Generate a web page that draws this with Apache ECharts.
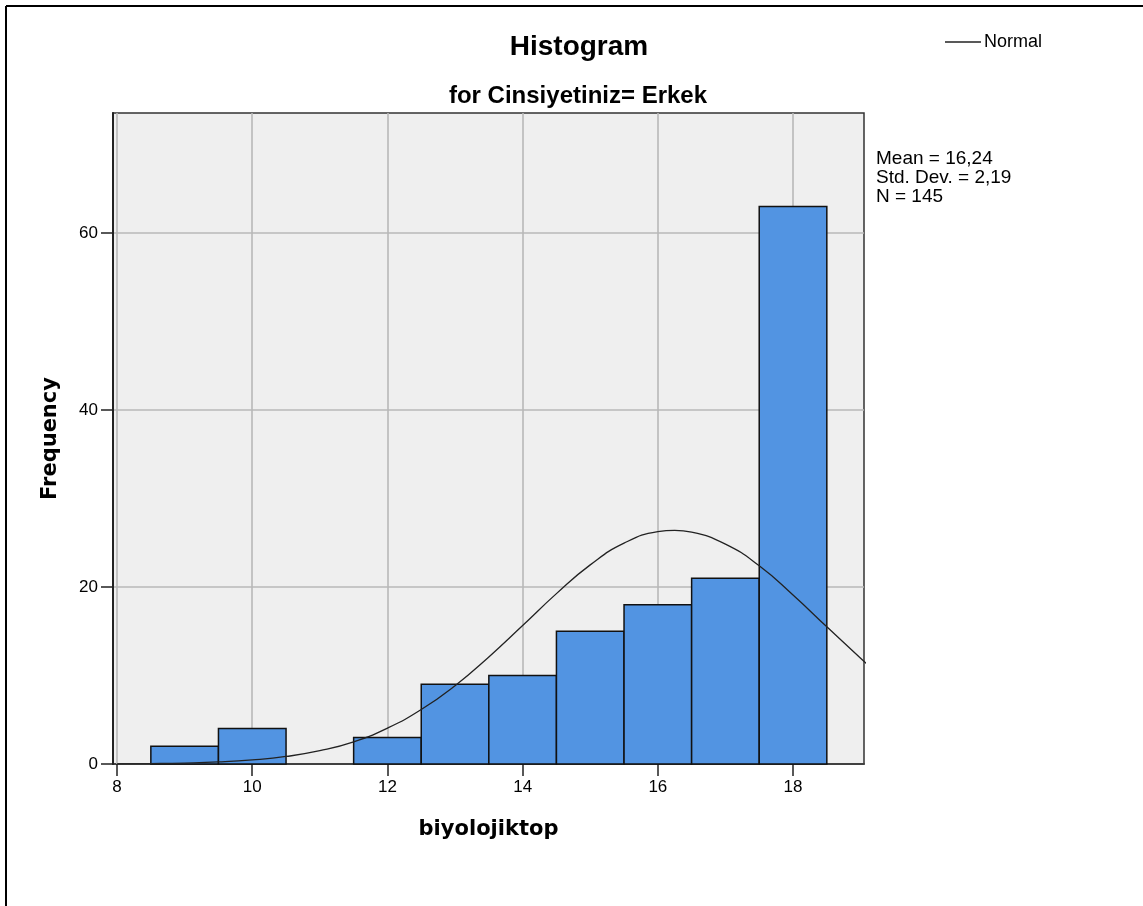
<!DOCTYPE html>
<html>
<head>
<meta charset="utf-8">
<script src="https://cdn.jsdelivr.net/npm/echarts@6/dist/echarts.min.js"></script>
<style>
html,body{margin:0;padding:0;background:#fff;}
#chart{width:1143px;height:906px;}
</style>
</head>
<body>
<div id="chart"></div>
<script>
// ---- data ----
const binStart = [8.5, 9.5, 11.5, 12.5, 13.5, 14.5, 15.5, 16.5, 17.5];
const binEnd   = [9.5, 10.5, 12.5, 13.5, 14.5, 15.5, 16.5, 17.5, 18.5];
const freq     = [2, 4, 3, 9, 10, 15, 18, 21, 63];
const normalX  = [8, 8.5, 9, 9.5, 10, 10.5, 11, 11.5, 12, 12.5, 13, 13.5, 14, 14.5, 15, 15.5, 16, 16.25, 16.5, 17, 17.5, 18, 18.5, 19, 19.1];
const normalY  = [0.02, 0.05, 0.11, 0.23, 0.46, 0.85, 1.5, 2.5, 4.05, 6.15, 8.85, 12.1, 15.65, 19.25, 22.5, 24.95, 26.25, 26.4, 26.2, 24.85, 22.4, 19.1, 15.5, 11.95, 11.25];
const xTicks   = [8, 10, 12, 14, 16, 18];
const yTicks   = [0, 20, 40, 60];
const statsLines = ['Mean = 16,24', 'Std. Dev. = 2,19', 'N = 145'];

const chart = echarts.init(document.getElementById('chart'));

const barData = binStart.map((s, i) => [s, binEnd[i], freq[i]]);
const curveData = normalX.map((x, i) => [x, normalY[i]]);

const option = {
  backgroundColor: '#ffffff',
  animation: false,
  grid: {
    left: 113, top: 113, right: 279, bottom: 142,
    show: true, backgroundColor: '#efefef', borderColor: '#333', borderWidth: 1.5
  },
  legend: {
    data: [{ name: 'Normal', icon: 'rect' }],
    right: 96, top: 28,
    itemWidth: 36, itemHeight: 1.6, itemGap: 3,
    textStyle: { fontFamily: 'Liberation Sans', fontSize: 18, color: '#000', padding: [0, 0, 0, -2] }
  },
  xAxis: {
    type: 'value', min: 7.94, max: 19.05,
    name: 'biyolojiktop', nameLocation: 'middle', nameGap: 55,
    nameTextStyle: { fontFamily: 'DejaVu Sans', fontWeight: 'bold', fontSize: 21, color: '#000', verticalAlign: 'top' },
    axisLine: { show: true, lineStyle: { color: '#222', width: 1.5 } },
    axisTick: { show: true, length: 12, customValues: xTicks, lineStyle: { color: '#222', width: 1.5 } },
    axisLabel: { customValues: xTicks, margin: 15, fontFamily: 'Liberation Sans', fontSize: 17, color: '#000' },
    splitLine: { show: false }
  },
  yAxis: {
    type: 'value', min: 0, max: 73.56, interval: 20,
    name: 'Frequency', nameLocation: 'middle', nameGap: 52, nameRotate: 90,
    nameTextStyle: { fontFamily: 'DejaVu Sans', fontWeight: 'bold', fontSize: 21, color: '#000' },
    axisLine: { show: true, lineStyle: { color: '#222', width: 2 } },
    axisTick: { show: true, length: 12, customValues: yTicks, lineStyle: { color: '#222', width: 1.5 } },
    axisLabel: { customValues: yTicks, margin: 15, fontFamily: 'Liberation Sans', fontSize: 17, color: '#000' },
    splitLine: { show: true, lineStyle: { color: '#b8b8b8', width: 1.6 } }
  },
  series: [
    {
      name: 'grid-x', type: 'line', data: [], z: 1, silent: true,
      markLine: {
        z: 1, silent: true, symbol: 'none', label: { show: false },
        lineStyle: { color: '#b8b8b8', width: 1.6, type: 'solid' },
        data: xTicks.map(v => ({ xAxis: v }))
      }
    },
    {
      name: 'Frequency', type: 'custom', z: 3,
      data: barData,
      encode: { x: [0, 1], y: 2 },
      renderItem: function (params, api) {
        const tl = api.coord([api.value(0), api.value(2)]);
        const br = api.coord([api.value(1), 0]);
        return {
          type: 'rect',
          shape: { x: tl[0], y: tl[1], width: br[0] - tl[0], height: br[1] - tl[1] },
          style: { fill: '#5294e2', stroke: '#111', lineWidth: 1.5 }
        };
      }
    },
    {
      name: 'Normal', type: 'line', z: 4, data: curveData,
      smooth: true, showSymbol: false, symbol: 'none',
      lineStyle: { color: '#222', width: 1.3 }, itemStyle: { color: '#222' }
    }
  ],
  graphic: [
    { type: 'text', x: 579, y: 47, style: { text: 'Histogram', align: 'center', verticalAlign: 'middle', fontFamily: 'Liberation Sans', fontWeight: 'bold', fontSize: 28, fill: '#000' }, z: 10 },
    { type: 'text', x: 578, y: 96, style: { text: 'for Cinsiyetiniz= Erkek', align: 'center', verticalAlign: 'middle', fontFamily: 'Liberation Sans', fontWeight: 'bold', fontSize: 24, fill: '#000' }, z: 10 },
    { type: 'text', x: 876, y: 149, style: { text: statsLines.join('\n'), lineHeight: 19, fontFamily: 'Liberation Sans', fontSize: 19, fill: '#000' }, z: 10 },
    { type: 'line', shape: { x1: 6, y1: 6, x2: 1143, y2: 6 }, style: { stroke: '#000', lineWidth: 2 }, z: 10 },
    { type: 'line', shape: { x1: 6, y1: 6, x2: 6, y2: 906 }, style: { stroke: '#000', lineWidth: 2 }, z: 10 }
  ]
};
chart.setOption(option);
</script>
</body>
</html>
